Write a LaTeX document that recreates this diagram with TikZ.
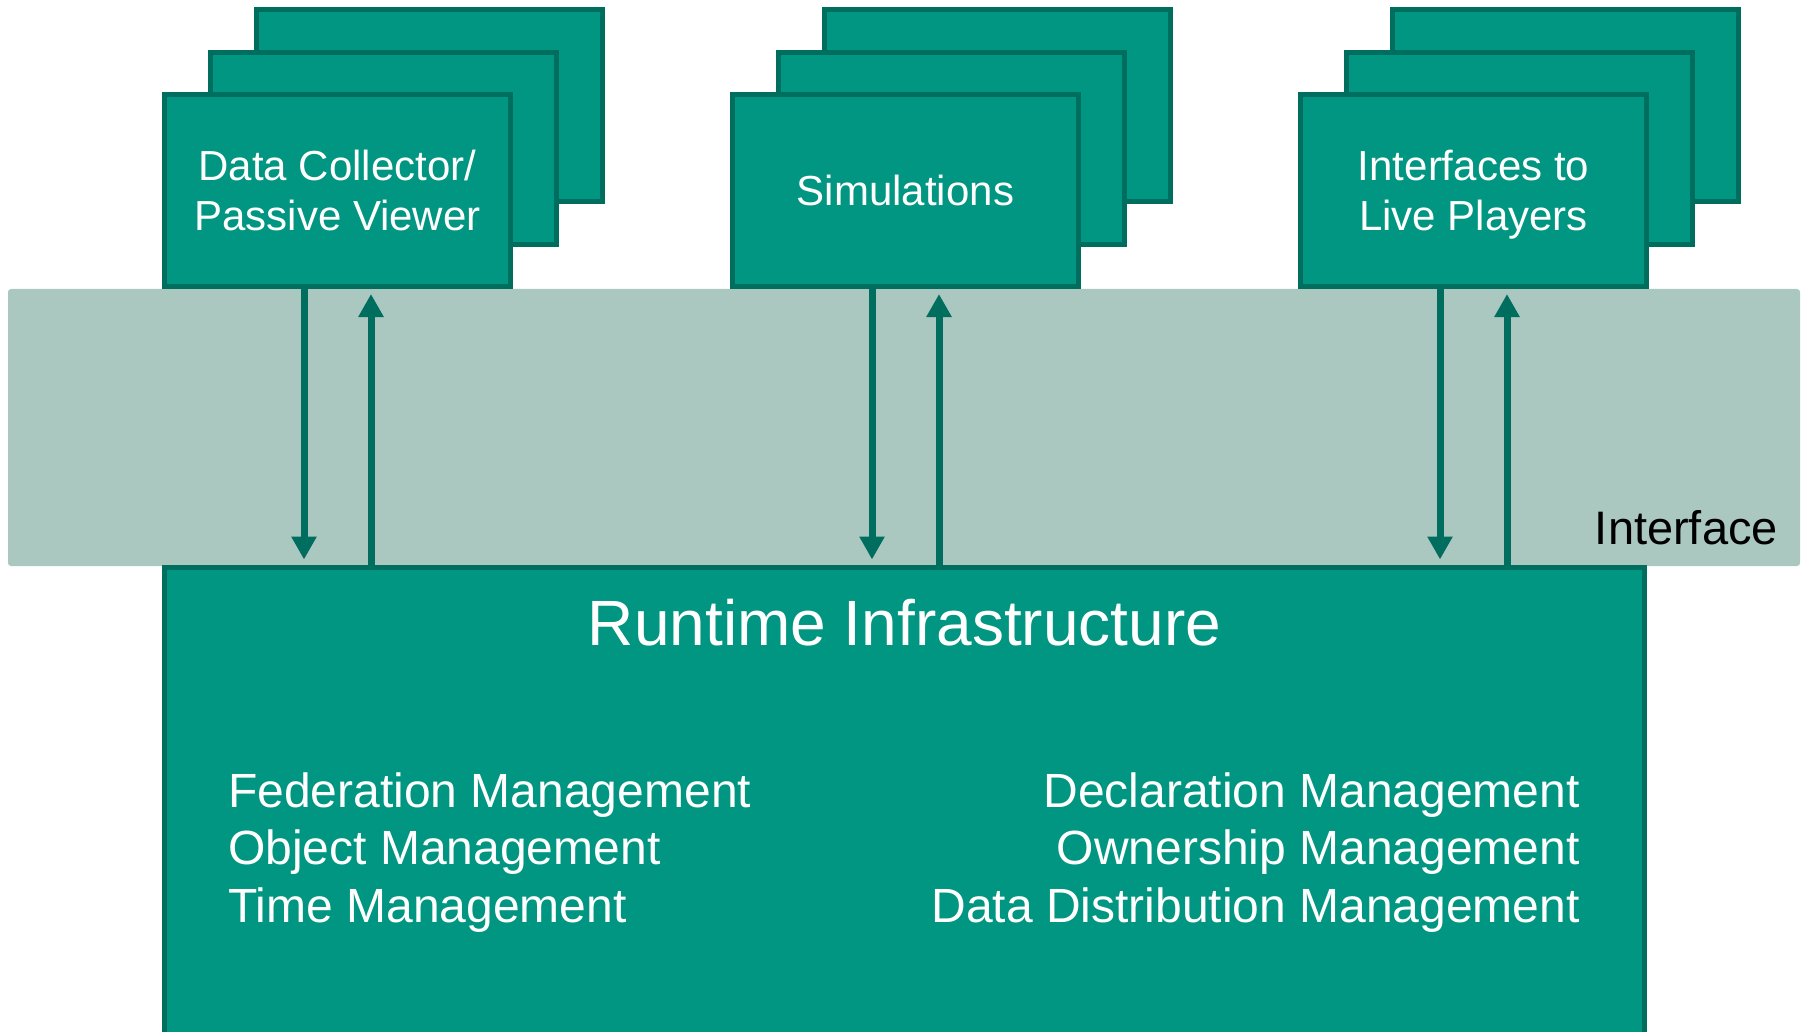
\documentclass[tikz,border=0pt]{standalone}
\usepackage{fontspec}
\setmainfont{Liberation Sans}
\usetikzlibrary{arrows.meta,calc}

\definecolor{hlateal}{HTML}{009681}
\definecolor{hladark}{HTML}{006E5E}
\definecolor{hlaband}{HTML}{AAC8C0}

\tikzset{
  card/.style={draw=hladark, fill=hlateal, line width=5pt,
    minimum width=346pt, minimum height=192pt, inner sep=0pt,
    text depth=0pt, text=white, align=center,
    font=\fontsize{42}{50}\selectfont},
  flow/.style={draw=hladark, line width=7pt,
    -{Triangle[width=24pt,length=23pt]}, shorten >=5pt},
  svc/.style={text=white, inner sep=0pt, font=\fontsize{48}{57.5}\selectfont},
}

\begin{document}
\begin{tikzpicture}[x=1pt,y=-1pt]
\useasboundingbox (0,0) rectangle (1804,1032);
\fill[white] (0,0) rectangle (1804,1032);

% interface band
\node[fill=hlaband, rounded corners=3pt, inner sep=0pt,
      minimum width=1792pt, minimum height=277pt] (band) at (904,427.5) {};
\node[anchor=base east, inner sep=0pt, font=\fontsize{47}{56}\selectfont]
      (bandlabel) at (1778,544) {Interface};

% runtime infrastructure
\node[draw=hladark, fill=hlateal, line width=5pt, inner sep=0pt,
      minimum width=1480pt, minimum height=478pt] (rti) at (904.5,806) {};
\node[svc, font=\fontsize{64}{76}\selectfont, anchor=base]
      (rtititle) at (904.5,645) {Runtime Infrastructure};

\node[svc, anchor=base west] (fm) at (228,807) {Federation Management};
\node[svc, anchor=base west] (om) at (228,864.5) {Object Management};
\node[svc, anchor=base west] (tm) at (228,922) {Time Management};
\node[svc, anchor=base east] (dm) at (1580,807) {Declaration Management};
\node[svc, anchor=base east] (owm) at (1580,864.5) {Ownership Management};
\node[svc, anchor=base east] (ddm) at (1580,922) {Data Distribution Management};

% federate stacks
\node[card] (dcback) at (429.5,105.5) {};
\node[card] (dcmid)  at (383.5,148.5) {};
\node[card] (dc)     at (337.5,190.5) {Data Collector/\\Passive Viewer};

\node[card] (simback) at (997.5,105.5) {};
\node[card] (simmid)  at (951.5,148.5) {};
\node[card] (sim)     at (905.5,190.5) {Simulations};

\node[card] (liveback) at (1565.5,105.5) {};
\node[card] (livemid)  at (1519.5,148.5) {};
\node[card] (live)     at (1473.5,190.5) {Interfaces to\\Live Players};

% data exchange with the RTI
\foreach \f in {dc, sim, live}{
  \draw[flow] ([xshift=-33.5pt]\f.south) -- ([xshift=-33.5pt]\f.south |- rti.north);
  \draw[flow] ([xshift=33.5pt]\f.south |- rti.north) -- ([xshift=33.5pt]\f.south);
}
\end{tikzpicture}
\end{document}
